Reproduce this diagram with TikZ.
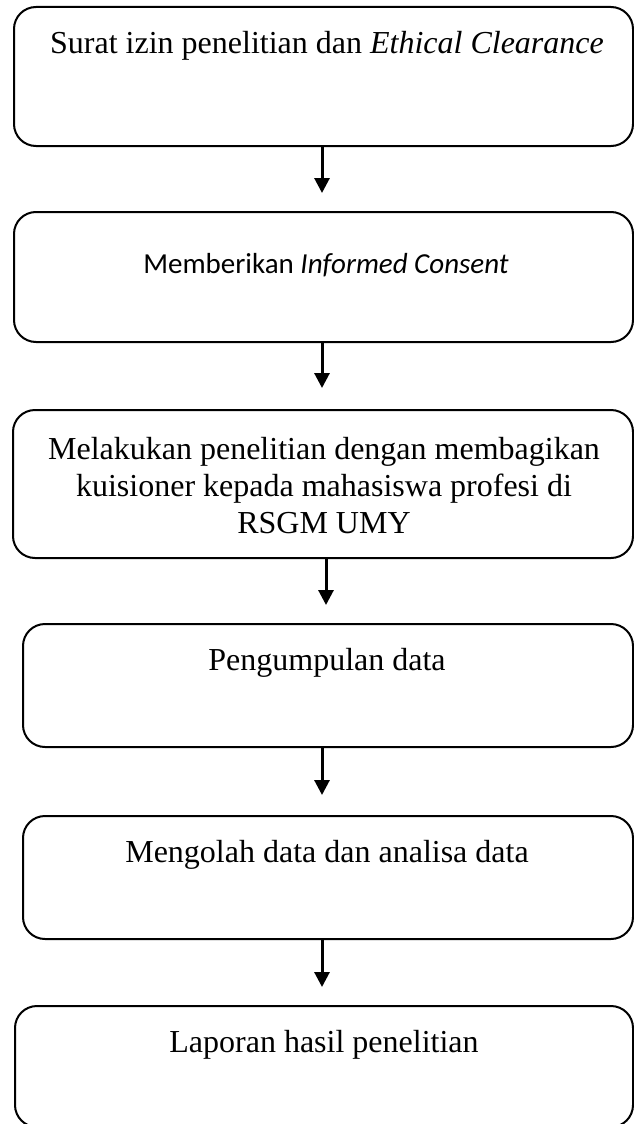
\documentclass[tikz,border=0pt]{standalone}
\usepackage{fontspec}
\setmainfont{Liberation Serif}
\newfontfamily\carlitofont{Carlito}
\usetikzlibrary{arrows.meta}
\begin{document}
\begin{tikzpicture}[x=1pt,y=-1pt,
  stepbox/.style={draw, line width=2pt, rounded corners=22pt, anchor=north west, inner sep=0pt},
  lbl/.style={font=\fontsize{32}{37}\selectfont, align=center, inner sep=0pt, anchor=base},
  arr/.style={line width=3pt, -{Triangle[length=15pt,width=15pt]}}]
\useasboundingbox (0,0) rectangle (633,1124);
\node[stepbox, minimum width=619, minimum height=139] (b1) at (13,6) {};
\node[stepbox, minimum width=619, minimum height=130] (b2) at (13,211) {};
\node[stepbox, minimum width=620, minimum height=148] (b3) at (12,409) {};
\node[stepbox, minimum width=610, minimum height=123] (b4) at (22,623) {};
\node[stepbox, minimum width=610, minimum height=123] (b5) at (22,815) {};
\node[stepbox, minimum width=618, minimum height=121] (b6) at (14,1005) {};
\node[lbl] (t1) at (327,54) {Surat izin penelitian dan \textit{Ethical Clearance}};
\node[lbl, font=\carlitofont\fontsize{29}{35}\selectfont] (t2) at (326,273) {Memberikan \textit{Informed Consent}};
\node[lbl, anchor=center] (t3) at (324,486) {Melakukan penelitian dengan membagikan\\kuisioner kepada mahasiswa profesi di\\RSGM UMY};
\node[lbl] (t4) at (327,670) {Pengumpulan data};
\node[lbl] (t5) at (327,862) {Mengolah data dan analisa data};
\node[lbl] (t6) at (324,1052) {Laporan hasil penelitian};
\coordinate (xa) at (322,0);
\coordinate (xb) at (326,0);
\draw[arr, shorten >=18pt] (xa |- b1.south) -- (xa |- b2.north);
\draw[arr, shorten >=21pt] (xa |- b2.south) -- (xa |- b3.north);
\draw[arr, shorten >=18pt] (xb |- b3.south) -- (xb |- b4.north);
\draw[arr, shorten >=20pt] (xa |- b4.south) -- (xa |- b5.north);
\draw[arr, shorten >=18pt] (xa |- b5.south) -- (xa |- b6.north);
\end{tikzpicture}
\end{document}
